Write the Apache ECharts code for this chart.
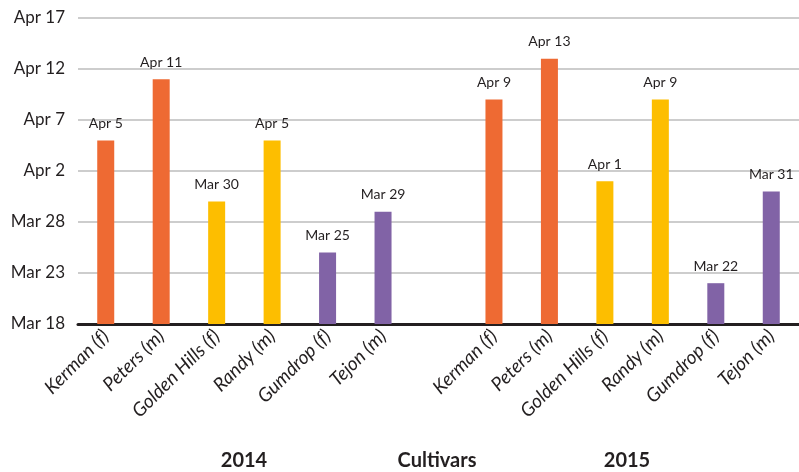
<!DOCTYPE html>
<html>
<head>
<meta charset="utf-8">
<script src="https://cdn.jsdelivr.net/npm/echarts@6/dist/echarts.min.js"></script>
<style>
  html, body { margin: 0; padding: 0; background: #fff; }
  #chart { width: 799px; height: 472px; }
</style>
</head>
<body>
<div id="chart"></div>
<script>
// Bloom dates of pistachio cultivars, stored as days after Mar 18.
const cultivars = ['Kerman (f)', 'Peters (m)', 'Golden Hills (f)', 'Randy (m)', 'Gumdrop (f)', 'Tejon (m)'];
const days2014 = [18, 24, 12, 18, 7, 11];   // Apr 5, Apr 11, Mar 30, Apr 5, Mar 25, Mar 29
const days2015 = [22, 26, 14, 22, 4, 13];   // Apr 9, Apr 13, Apr 1, Apr 9, Mar 22, Mar 31
const cultivarColors = ['#EE6A33', '#EE6A33', '#FDBE00', '#FDBE00', '#8163A6', '#8163A6'];
const yTicks = [0, 5, 10, 15, 20, 25, 30];  // Mar 18 ... Apr 17
const groupLabels = ['2014', 'Cultivars', '2015'];

const startDate = new Date(2014, 2, 18);
const monthNames = ['Jan','Feb','Mar','Apr','May','Jun','Jul','Aug','Sep','Oct','Nov','Dec'];
function dayLabel(d) {
  const dt = new Date(startDate.getTime());
  dt.setDate(dt.getDate() + d);
  return monthNames[dt.getMonth()] + ' ' + dt.getDate();
}

// 2014 cultivars, an empty spacer slot, then 2015 cultivars
const categories = cultivars.concat(['']).concat(cultivars);
const barData = [];
days2014.forEach((v, i) => barData.push({ value: v, itemStyle: { color: cultivarColors[i] } }));
barData.push({ value: null });
days2015.forEach((v, i) => barData.push({ value: v, itemStyle: { color: cultivarColors[i] } }));

const FONT = 'Lato';
const groupX = [244, 437, 627];

const chart = echarts.init(document.getElementById('chart'), null, { renderer: 'canvas' });
chart.setOption({
  animation: false,
  textStyle: { fontFamily: FONT },
  grid: { left: 78, right: 0, top: 18, bottom: 148, containLabel: false },
  xAxis: {
    type: 'category',
    data: categories,
    axisLine: { show: true, lineStyle: { color: '#231F20', width: 3 } },
    axisTick: { show: false },
    axisLabel: {
      interval: 0,
      rotate: 45,
      margin: 9,
      fontSize: 19,
      fontStyle: 'italic',
      color: '#231F20',
      fontFamily: FONT
    }
  },
  yAxis: {
    type: 'value',
    min: yTicks[0],
    max: yTicks[yTicks.length - 1],
    interval: yTicks[1] - yTicks[0],
    axisLine: { show: false },
    axisTick: { show: false },
    splitLine: { lineStyle: { color: '#BDBDBD', width: 1.5 } },
    axisLabel: {
      margin: 13,
      fontSize: 17,
      color: '#231F20',
      fontFamily: FONT,
      formatter: v => dayLabel(v)
    }
  },
  series: [{
    type: 'bar',
    data: barData,
    barWidth: 17,
    label: {
      show: true,
      position: 'top',
      distance: 10,
      fontSize: 14,
      color: '#231F20',
      fontFamily: FONT,
      formatter: p => dayLabel(p.value)
    }
  }],
  graphic: groupLabels.map((t, i) => ({
    type: 'text',
    x: groupX[i],
    y: 461,
    style: {
      text: t,
      font: 'bold 20px ' + FONT,
      fill: '#231F20',
      textAlign: 'center',
      textVerticalAlign: 'middle'
    }
  }))
});
</script>
</body>
</html>
